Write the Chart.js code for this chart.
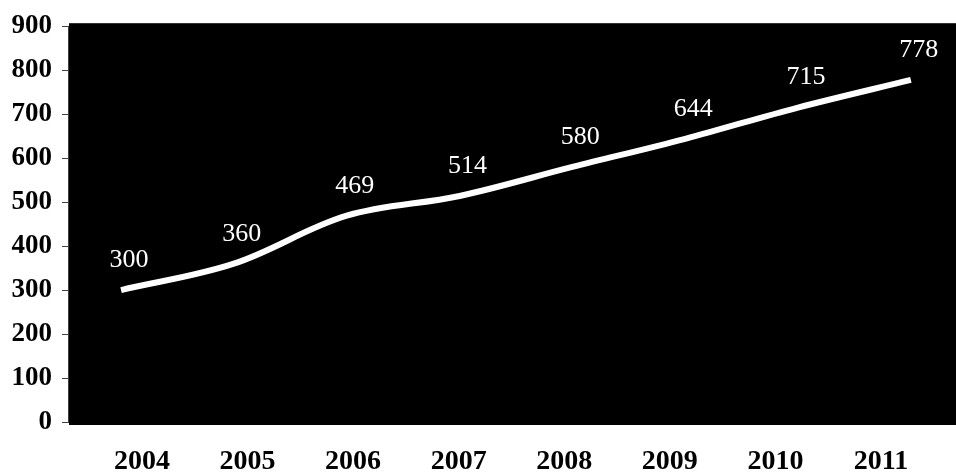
<!DOCTYPE html>
<html>
<head>
<meta charset="utf-8">
<script src="https://cdn.jsdelivr.net/npm/chart.js@4"></script>
<style>
  html, body { margin: 0; padding: 0; background: #fff; }
  #wrap { width: 956px; height: 472px; }
</style>
</head>
<body>
<div id="wrap"><canvas id="chart"></canvas></div>
<script>
const years = ['2004', '2005', '2006', '2007', '2008', '2009', '2010', '2011'];
const values = [300, 360, 469, 514, 580, 644, 715, 778];
const yTicks = [0, 100, 200, 300, 400, 500, 600, 700, 800, 900];

const SERIF = '"Liberation Serif", "Times New Roman", serif';

// black plot background, a bit taller than the axis range
const plotBg = {
    id: 'plotBg',
    beforeDraw(chart) {
        const a = chart.chartArea;
        const ctx = chart.ctx;
        ctx.save();
        ctx.fillStyle = '#000';
        ctx.fillRect(a.left + 1, a.top - 3, a.right - a.left, a.bottom - a.top + 6);
        ctx.restore();
    }
};

// value labels over the line
const valueLabels = {
    id: 'valueLabels',
    afterDatasetsDraw(chart) {
        const ctx = chart.ctx;
        const meta = chart.getDatasetMeta(0);
        ctx.save();
        ctx.font = '26px ' + SERIF;
        ctx.fillStyle = '#fff';
        ctx.textAlign = 'center';
        ctx.textBaseline = 'middle';
        meta.data.forEach((pt, i) => {
            ctx.fillText(String(values[i]), pt.x + 8, pt.y - 30);
        });
        ctx.restore();
    }
};

new Chart(document.getElementById('chart'), {
    type: 'line',
    data: {
        datasets: [{
            data: values.map((v, i) => ({ x: i, y: v })),
            borderColor: '#fff',
            borderWidth: 6,
            tension: 0.35,
            pointRadius: 0,
            fill: false
        }]
    },
    options: {
        responsive: true,
        maintainAspectRatio: false,
        animation: false,
        layout: { padding: { top: 24, right: 0, bottom: 0, left: 0 } },
        plugins: { legend: { display: false }, tooltip: { enabled: false } },
        scales: {
            x: {
                type: 'linear',
                display: false,
                min: -0.47,
                max: 7.4
            },
            xl: {
                type: 'linear',
                position: 'bottom',
                min: -0.70,
                max: 7.71,
                grid: { display: false },
                border: { display: false },
                afterBuildTicks(scale) {
                    scale.ticks = years.map((y, i) => ({ value: i }));
                },
                afterFit(scale) { scale.height = 50; },
                ticks: {
                    padding: 15,
                    maxRotation: 0,
                    autoSkip: false,
                    color: '#000',
                    font: { family: SERIF, size: 28, weight: 'bold' },
                    callback: (v) => years[v]
                }
            },
            y: {
                min: 0,
                max: 900,
                afterBuildTicks(scale) {
                    scale.ticks = yTicks.map(v => ({ value: v }));
                },
                afterFit(scale) { scale.width = 68; },
                grid: { drawOnChartArea: false, drawTicks: true, tickLength: 6, color: '#404040' },
                border: { display: true, color: '#404040', width: 1 },
                ticks: {
                    padding: 10,
                    color: '#000',
                    font: { family: SERIF, size: 27, weight: 'bold' }
                }
            }
        }
    },
    plugins: [plotBg, valueLabels]
});
</script>
</body>
</html>
